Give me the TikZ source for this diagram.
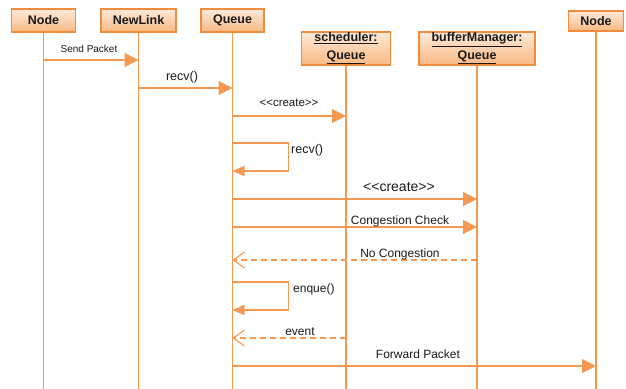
\documentclass[tikz,border=0pt]{standalone}
\usepackage{fontspec}
\setmainfont{Liberation Sans}
\usetikzlibrary{arrows.meta,calc}
\definecolor{seqline}{RGB}{245,152,82}
\definecolor{boxedge}{RGB}{240,140,62}
\definecolor{boxtop}{RGB}{253,234,218}
\definecolor{boxbot}{RGB}{249,184,130}
\definecolor{ink}{RGB}{25,25,25}
\tikzset{
  x=1pt, y=-1pt,
  lifebox/.style={draw=boxedge, line width=1.1pt, top color=boxtop, bottom color=boxbot,
    text=ink, font=\fontsize{12.5}{16}\selectfont\bfseries, inner sep=0pt, align=center},
  lifeline/.style={draw=seqline, line width=1.2pt},
  msg/.style={draw=seqline, line width=1.2pt, -{Triangle[length=14pt,width=14pt]}},
  selfmsg/.style={draw=seqline, line width=1.2pt, -{Triangle[length=12pt,width=10pt]}},
  reply/.style={draw=seqline, line width=1.2pt, dash pattern=on 6pt off 4pt,
    -{Straight Barb[length=11pt,width=16pt,line width=1.1pt]}},
  lbl/.style={text=ink, font=\fontsize{12}{14}\selectfont, inner sep=0pt}
}
\begin{document}
\begin{tikzpicture}
\useasboundingbox (0,0) rectangle (626,388);

% participant heads
\node[lifebox, minimum width=64pt, minimum height=23pt] (node1) at (43.5,20.5) {Node};
\node[lifebox, minimum width=75pt, minimum height=23pt] (link) at (138.5,20.5) {NewLink};
\node[lifebox, minimum width=63pt, minimum height=23pt] (queue) at (232.5,20.5) {Queue};
\node[lifebox, minimum width=89pt, minimum height=33pt] (sched) at (346,48.5) {\underline{scheduler:}\\[2pt]\underline{Queue}};
\node[lifebox, minimum width=116pt, minimum height=33pt] (bufm) at (477,48.5) {\underline{bufferManager:}\\[2pt]\underline{Queue}};
\node[lifebox, minimum width=55pt, minimum height=20pt] (node2) at (596,21) {Node};

% lifeline ends
\coordinate (e1) at (node1 |- 0,390);
\coordinate (e2) at (link |- 0,390);
\coordinate (e3) at (queue |- 0,390);
\coordinate (e4) at (sched |- 0,390);
\coordinate (e5) at (bufm |- 0,390);
\coordinate (e6) at (node2 |- 0,390);

\draw[lifeline] (node1.south) -- (e1);
\draw[lifeline] (link.south) -- (e2);
\draw[lifeline] (queue.south) -- (e3);
\draw[lifeline] (sched.south) -- (e4);
\draw[lifeline] (bufm.south) -- (e5);
\draw[lifeline] (node2.south) -- (e6);

% message anchors on the lifelines
\coordinate (a1) at (node1 |- 0,60);   \coordinate (b1) at (link |- 0,60);
\coordinate (a2) at (link |- 0,88);    \coordinate (b2) at (queue |- 0,88);
\coordinate (a3) at (queue |- 0,116);  \coordinate (b3) at (sched |- 0,116);
\coordinate (a4) at (queue |- 0,143);  \coordinate (b4) at (queue |- 0,171);
\coordinate (a5) at (queue |- 0,199);  \coordinate (b5) at (bufm |- 0,199);
\coordinate (a6) at (queue |- 0,227);  \coordinate (b6) at (bufm |- 0,227);
\coordinate (a7) at (bufm |- 0,260);   \coordinate (b7) at (queue |- 0,260);
\coordinate (a8) at (queue |- 0,282);  \coordinate (b8) at (queue |- 0,310);
\coordinate (a9) at (sched |- 0,338);  \coordinate (b9) at (queue |- 0,338);
\coordinate (a10) at (queue |- 0,366); \coordinate (b10) at (node2 |- 0,366);

% messages
\draw[msg] (a1) -- (b1);
\draw[msg] (a2) -- (b2);
\draw[msg] (a3) -- (b3);
\draw[selfmsg] (a4) -- ++(56,0) |- (b4);
\draw[msg] (a5) -- (b5);
\draw[msg] (a6) -- (b6);
\draw[reply] (a7) -- (b7);
\draw[selfmsg] (a8) -- ++(56,0) |- (b8);
\draw[reply] (a9) -- (b9);
\draw[msg] (a10) -- (b10);

% message labels
\node[lbl, font=\fontsize{10}{12}\selectfont] (t1) at (89,49) {Send Packet};
\node[lbl, font=\fontsize{12.5}{14}\selectfont] (t2) at (182,77) {recv()};
\node[lbl, font=\fontsize{11.5}{14}\selectfont] (t3) at (289,103) {{<}{<}create{>}{>}};
\node[lbl, font=\fontsize{12.5}{14}\selectfont, anchor=west] (t4) at (291,150) {recv()};
\node[lbl, font=\fontsize{14}{16}\selectfont] (t5) at (399,187) {{<}{<}create{>}{>}};
\node[lbl] (t6) at (400,221) {Congestion Check};
\node[lbl] (t7) at (400,254) {No Congestion};
\node[lbl, anchor=west] (t8) at (293,289) {enque()};
\node[lbl] (t9) at (300,332) {event};
\node[lbl] (t10) at (418,354) {Forward Packet};
\end{tikzpicture}
\end{document}
